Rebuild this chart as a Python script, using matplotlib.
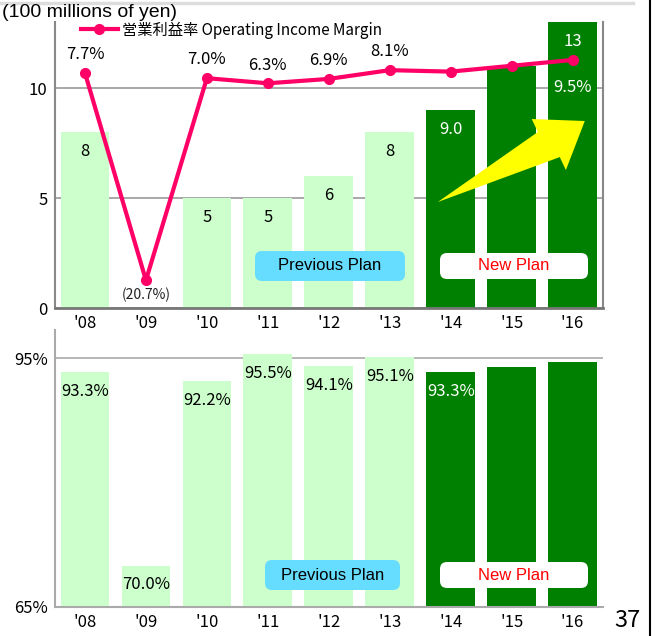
import matplotlib.pyplot as plt
from matplotlib.patches import FancyBboxPatch, Polygon
from matplotlib.lines import Line2D

plt.rcParams['font.family'] = ['Noto Sans CJK JP', 'DejaVu Sans']

years = ["'08", "'09", "'10", "'11", "'12", "'13", "'14", "'15", "'16"]
income = [8, 0, 5, 5, 6, 8, 9.0, 11, 13]
income_labels = ['8', '', '5', '5', '6', '8', '9.0', '', '13']
margin = [7.7, -20.7, 7.0, 6.3, 6.9, 8.1, 7.9, 8.7, 9.5]
margin_labels = ['7.7%', '(20.7%)', '7.0%', '6.3%', '6.9%', '8.1%', '7.9%', '', '9.5%']
ratio = [93.3, 70.0, 92.2, 95.5, 94.1, 95.1, 93.3, 94.0, 94.5]
ratio_labels = ['93.3%', '70.0%', '92.2%', '95.5%', '94.1%', '95.1%', '93.3%', '', '']
new_plan = [False] * 6 + [True] * 3

light = '#ccffcc'
dark = '#008000'
pink = '#ff0066'
colors = [dark if n else light for n in new_plan]
label_colors = ['white' if n else 'black' for n in new_plan]
x = list(range(len(years)))

fig = plt.figure(figsize=(6.56, 6.36), dpi=100)

# --- operating income (top) ---
ax = fig.add_axes([0.0831, 0.5157, 0.8362, 0.4497])
ax.set_xlim(-0.5, 8.5)
ax.set_ylim(0, 13)
ax.set_yticks([0, 5, 10])
ax.yaxis.grid(True, color='#999999', lw=1.2)
ax.set_axisbelow(True)
ax.bar(x, income, width=0.8, color=colors, zorder=2)
for i, (v, lab) in enumerate(zip(income, income_labels)):
    if lab:
        ax.annotate(lab, (i, v), xytext=(0, -14), textcoords='offset points',
                    ha='center', va='center', fontsize=12, color=label_colors[i], zorder=5)
ax.set_xticks(x)
ax.set_xticklabels(years)
ax.tick_params(length=0, pad=5, labelsize=12)
ax.spines['top'].set_visible(False)
for s in ['left', 'right']:
    ax.spines[s].set_color('#888888')
    ax.spines[s].set_linewidth(1.5)
ax.spines['bottom'].set_color('#777777')
ax.spines['bottom'].set_linewidth(2)

# margin line on a hidden secondary scale
ax2 = ax.twinx()
ax2.set_ylim(-24.5, 14.7)
ax2.axis('off')
ax2.plot(x, margin, color=pink, lw=3, marker='o', ms=7, zorder=4)
for i, (v, lab) in enumerate(zip(margin, margin_labels)):
    if not lab:
        continue
    if v < 0:
        ax2.annotate(lab, (i, v), xytext=(0, -5), textcoords='offset points',
                     ha='center', va='top', fontsize=10, color='#222222')
    elif new_plan[i]:
        ax2.annotate(lab, (i, v), xytext=(0, -20), textcoords='offset points',
                     ha='center', va='center', fontsize=12, color='white')
    else:
        ax2.annotate(lab, (i, v), xytext=(0, 7), textcoords='offset points',
                     ha='center', va='bottom', fontsize=12, color='black')

# yellow growth arrow
arrow = Polygon([(5.79, 4.82), (7.43, 8.0), (7.33, 8.59), (8.20, 8.5),
                 (7.89, 6.27), (7.79, 6.86)], closed=True,
                facecolor='#ffff00', edgecolor='none', zorder=3)
ax.add_patch(arrow)

legend_handle = Line2D([], [], color=pink, lw=3, marker='o', ms=7)
ax2.legend([legend_handle], ['営業利益率 Operating Income Margin'],
           loc='center left', bbox_to_anchor=(0.112, 0.953), bbox_transform=fig.transFigure,
           frameon=False, handlelength=2.4, handletextpad=0.25, borderpad=0,
           prop={'family': ['Noto Sans CJK JP', 'DejaVu Sans'], 'size': 11})

# --- cost ratio (bottom) ---
bx = fig.add_axes([0.0831, 0.0456, 0.8362, 0.4355])
bx.set_xlim(-0.5, 8.5)
bx.set_ylim(65, 98.4)
bx.set_yticks([65, 95])
bx.set_yticklabels(['65%', '95%'])
bx.yaxis.grid(True, color='#aaaaaa', lw=1.2)
bx.set_axisbelow(True)
bx.bar(x, ratio, width=0.8, color=colors, zorder=2)
for i, (v, lab) in enumerate(zip(ratio, ratio_labels)):
    if lab:
        bx.annotate(lab, (i, v), xytext=(0, -14), textcoords='offset points',
                    ha='center', va='center', fontsize=12, color=label_colors[i], zorder=5)
bx.set_xticks(x)
bx.set_xticklabels(years)
bx.tick_params(length=0, pad=5, labelsize=12)
for s in ['top', 'right']:
    bx.spines[s].set_visible(False)
for s in ['left', 'bottom']:
    bx.spines[s].set_color('#aaaaaa')
    bx.spines[s].set_linewidth(1.5)


def plan_box(x0, y0, w, h, text, face, tcolor):
    # boxes placed in inches from the lower-left corner of the figure
    box = FancyBboxPatch((x0, y0), w, h, boxstyle='round,pad=0,rounding_size=0.07',
                         transform=fig.dpi_scale_trans, facecolor=face,
                         edgecolor='none', zorder=6)
    fig.patches.append(box)
    fig.text((x0 + w / 2) / 6.56, (y0 + h / 2) / 6.36, text, ha='center', va='center',
             fontsize=12, color=tcolor, family=['Liberation Sans', 'DejaVu Sans'], zorder=7)


plan_box(2.55, 3.55, 1.50, 0.30, 'Previous Plan', '#66ddff', 'black')
plan_box(4.40, 3.57, 1.48, 0.26, 'New Plan', 'white', '#ff0000')
plan_box(2.65, 0.46, 1.35, 0.30, 'Previous Plan', '#66ddff', 'black')
plan_box(4.40, 0.48, 1.48, 0.26, 'New Plan', 'white', '#ff0000')

fig.text(0.003, 0.981, '(100 millions of yen)', fontsize=14, va='center', ha='left',
         family=['Liberation Sans', 'DejaVu Sans'])
fig.text(0.957, 0.025, '37', fontsize=17, ha='center', va='center')

# page frame lines
fig.add_artist(Line2D([0, 0.965], [0.996, 0.996], color='#dddddd', lw=2.5))
fig.add_artist(Line2D([0.991, 0.991], [0, 1], color='black', lw=1.5))

fig.savefig('out.png', dpi=100)
